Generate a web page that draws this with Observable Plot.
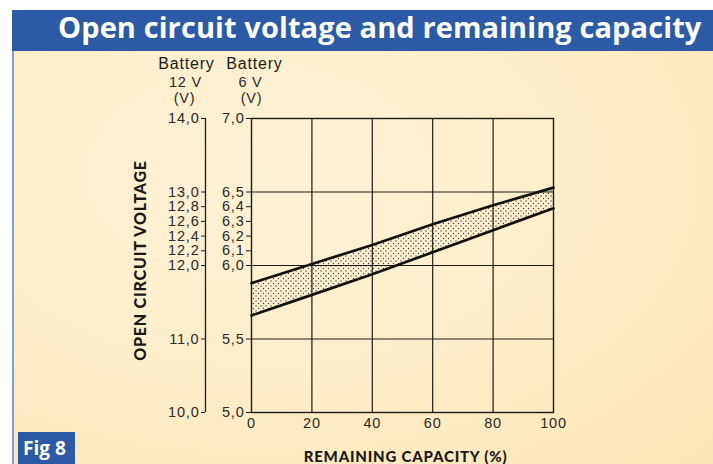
<!DOCTYPE html>
<html><head><meta charset="utf-8">
<script src="https://cdn.jsdelivr.net/npm/d3@7"></script>
<script src="https://cdn.jsdelivr.net/npm/@observablehq/plot@0.6"></script>
<style>
body{margin:0;background:#fff;}
#wrap{position:relative;width:713px;height:464px;overflow:hidden;background:#fff;}
#title{position:absolute;left:12px;top:10px;width:701px;height:41px;background:#2c5aa6;color:#fff;white-space:nowrap;overflow:hidden;}
#title span{position:absolute;left:46px;top:-3px;font:700 29px "Open Sans";letter-spacing:0.1px;}
#panel{position:absolute;left:12px;top:51px;width:701px;height:413px;border-left:2px solid #7e9fd9;
  background:radial-gradient(ellipse at 35% 30%,#fef2d6 0%,#feeecb 45%,#fde5b5 100%);}
#chart{position:absolute;left:0;top:50px;}
#chart svg text{letter-spacing:0.8px;}
#fig{position:absolute;left:18px;top:432px;width:57px;height:32px;background:#2c5aa6;color:#fff;font:700 19px "Open Sans";line-height:32px;text-indent:5px;}
</style></head>
<body>
<div id="wrap">
  <div id="title"><span>Open circuit voltage and remaining capacity</span></div>
  <div id="panel"></div>
  <div id="chart"></div>
  <div id="fig">Fig 8</div>
</div>
<script>
const capacity = [0, 20, 40, 60, 80, 100];
const upperV6 = [5.88, 6.01, 6.14, 6.28, 6.41, 6.53];
const lowerV6 = [5.66, 5.80, 5.94, 6.09, 6.24, 6.39];
const ticks6V = [5.0, 5.5, 6.0, 6.1, 6.2, 6.3, 6.4, 6.5, 7.0];
const ticks12V = [10, 11, 12, 12.2, 12.4, 12.6, 12.8, 13, 14];
const xTicks = [0, 20, 40, 60, 80, 100];
const gridX = [20, 40, 60, 80];
const gridY = [5.5, 6.0, 6.5];
const header12 = ["Battery", "12 V", "(V)"];
const header6 = ["Battery", "6 V", "(V)"];
const yTitle = "OPEN CIRCUIT VOLTAGE";
const xTitle = "REMAINING CAPACITY (%)";

const band = capacity.map((c, i) => ({c, lo: lowerV6[i], hi: upperV6[i]}));
const fmt = d => d.toFixed(1).replace(".", ",");
const ink = "#1c1c1c";
const hdr = (t, dx, dy, size, fill) => Plot.text([t], {frameAnchor: "top-left", dx, dy, textAnchor: "middle", lineAnchor: "middle", fontSize: size, fill});

const plot = Plot.plot({
  width: 713, height: 414,
  marginLeft: 251, marginRight: 160, marginTop: 68, marginBottom: 52,
  style: {background: "transparent", fontFamily: "Liberation Sans", fontSize: "14.5px", color: "#2a2a2a"},
  x: {domain: [0, 100]},
  y: {domain: [5, 7]},
  marks: [
    Plot.areaY(band, {x: "c", y1: "lo", y2: "hi", fill: "url(#dots)"}),
    Plot.ruleX(gridX, {stroke: ink, strokeWidth: 1.2}),
    Plot.ruleY(gridY, {stroke: ink, strokeWidth: 1.2}),
    Plot.frame({stroke: ink, strokeWidth: 1.4}),
    Plot.lineY(band, {x: "c", y: "hi", stroke: "#111", strokeWidth: 2.7}),
    Plot.lineY(band, {x: "c", y: "lo", stroke: "#111", strokeWidth: 2.7}),
    Plot.axisY({ticks: ticks6V, tickFormat: fmt, tickSize: 5, tickPadding: 2, stroke: ink, label: null}),
    Plot.axisY({ticks: ticks12V.map(v => v / 2), tickFormat: d => fmt(d * 2), tickSize: 4, tickPadding: 2, dx: -46, stroke: ink, label: null}),
    Plot.ruleX([0], {y1: 5, y2: 7, dx: -46, stroke: ink, strokeWidth: 1.3}),
    Plot.axisX({ticks: xTicks, tickSize: 0, tickPadding: 5, tickFormat: d => String(d), label: null}),
    hdr(header12[0], -65, -55, 16, "#1a1a1a"),
    hdr(header12[1], -66, -36, 14.5, "#2a2a2a"),
    hdr(header12[2], -67, -20, 14.5, "#2a2a2a"),
    hdr(header6[0], 3, -55, 16, "#1a1a1a"),
    hdr(header6[1], -1, -36, 14.5, "#2a2a2a"),
    hdr(header6[2], 0, -20, 14.5, "#2a2a2a"),
    Plot.text([yTitle], {frameAnchor: "left", dx: -111, dy: -5, rotate: -90, textAnchor: "middle", lineAnchor: "middle", fontFamily: "Lato", fontWeight: 900, fontSize: 16, fill: "#1a1a1a"}),
    Plot.text([xTitle], {frameAnchor: "bottom", dx: 3, dy: 45, textAnchor: "middle", lineAnchor: "middle", fontFamily: "Lato", fontWeight: 900, fontSize: 15, fill: "#1a1a1a"})
  ]
});

const ns = "http://www.w3.org/2000/svg";
const defs = document.createElementNS(ns, "defs");
const pat = document.createElementNS(ns, "pattern");
pat.setAttribute("id", "dots");
pat.setAttribute("patternUnits", "userSpaceOnUse");
pat.setAttribute("width", "5");
pat.setAttribute("height", "5");
for (const [cx, cy] of [[1, 1], [3.5, 3.5]]) {
  const c = document.createElementNS(ns, "circle");
  c.setAttribute("cx", cx); c.setAttribute("cy", cy); c.setAttribute("r", "0.65");
  c.setAttribute("fill", "#3a3a3a");
  pat.appendChild(c);
}
defs.appendChild(pat);
plot.insertBefore(defs, plot.firstChild);
document.getElementById("chart").appendChild(plot);
</script>
</body></html>
